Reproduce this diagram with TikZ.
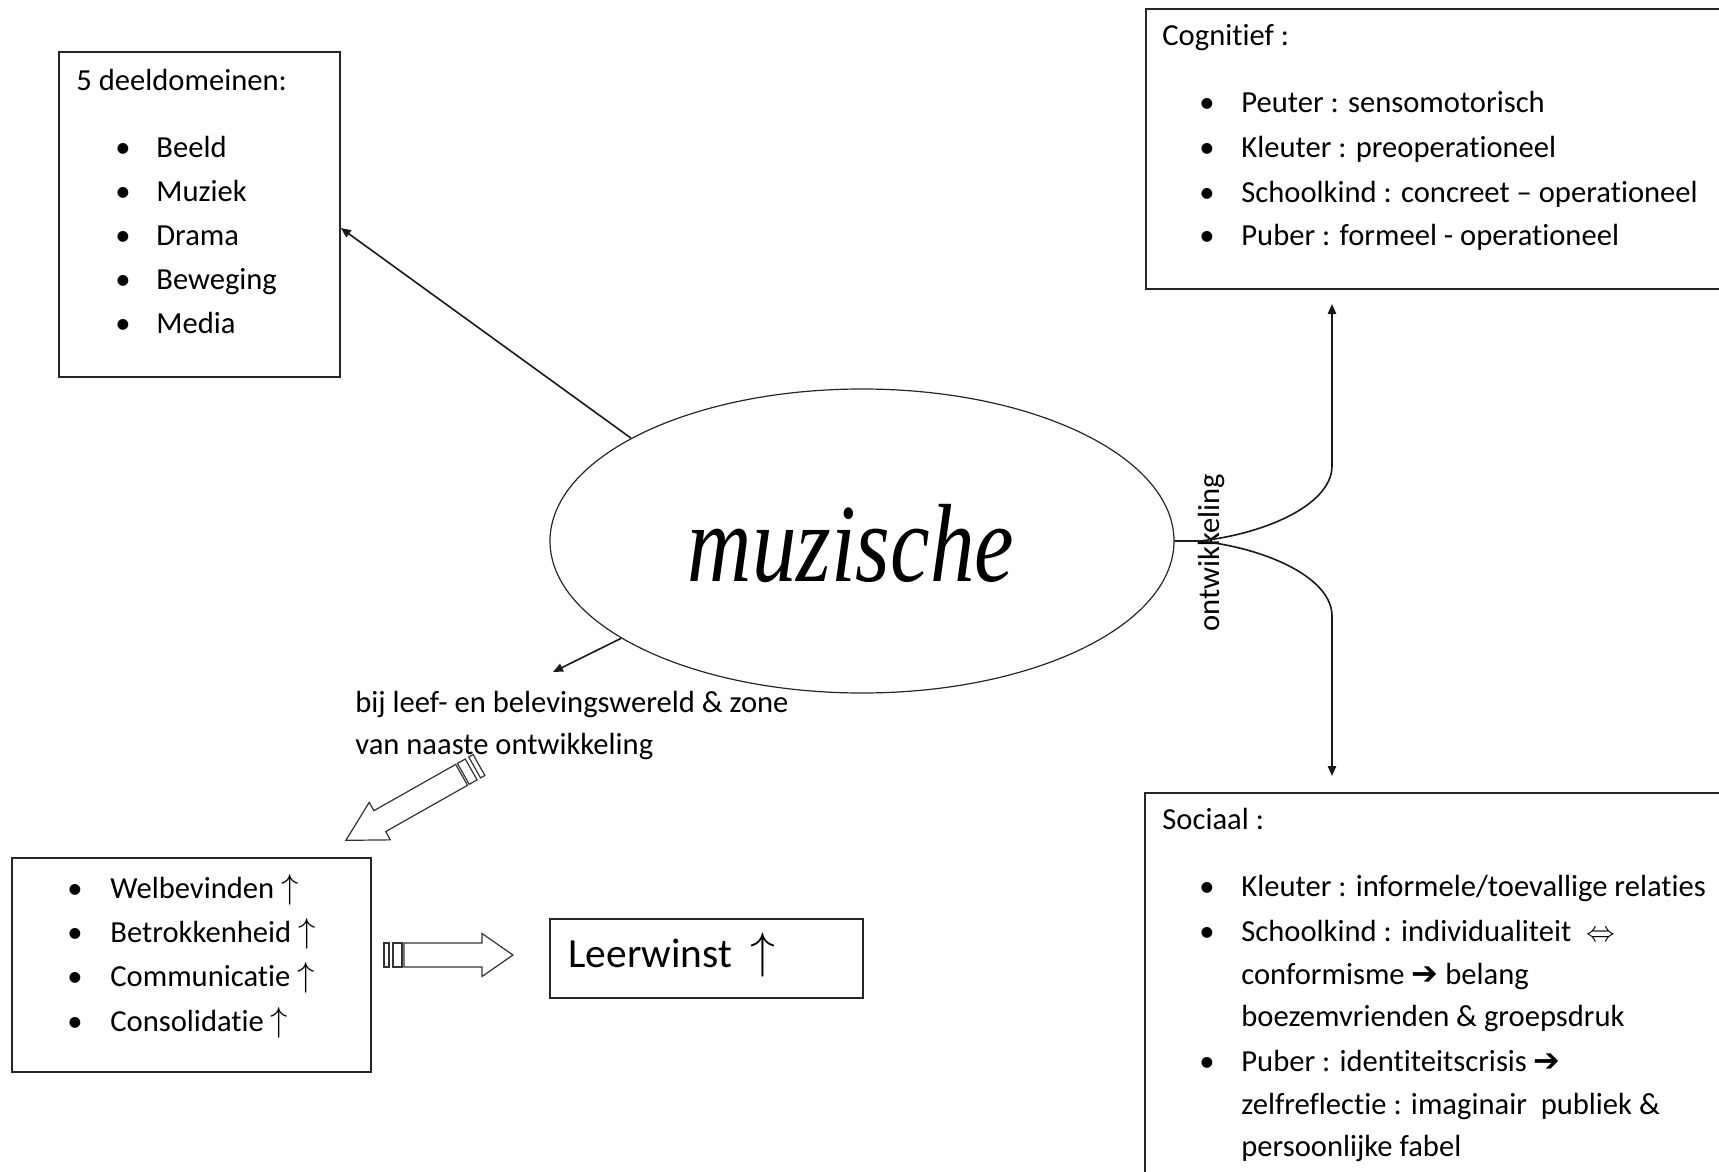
\documentclass[tikz,border=0pt]{standalone}
\usepackage{fontspec}
\setmainfont{Carlito}[Ligatures=NoCommon]
\newfontfamily\mzfont{Liberation Serif}
\newfontfamily\dejavu{DejaVu Sans}
\usetikzlibrary{shapes.geometric,arrows.meta,calc}
\newcommand{\uparr}{{\fontsize{19}{20}\selectfont$\uparrow$}}
\begin{document}
\begin{tikzpicture}[x=0.5pt,y=-0.5pt,
  txt/.style={font=\fontsize{15.3}{18}\selectfont, inner sep=0pt, anchor=mid west, yshift=-3pt},
  bul/.style={font=\fontsize{15.3}{18}\selectfont, inner sep=0pt, anchor=mid, yshift=-3pt},
  box/.style={draw=black!85, line width=0.8pt, rectangle, inner sep=0pt},
  conn/.style={draw=black!90, line width=0.8pt, -{Triangle[length=5pt,width=4.2pt]}},
  blk/.style={draw=black!80, line width=0.6pt, fill=white, line join=miter}]
\useasboundingbox (0,0) rectangle (1719,1172);
\clip (0,0) rectangle (1719,1172);

% boxes
\node[box, minimum width=140.5pt, minimum height=162.5pt] (dd) at (199.5,214.5) {};
\node[box, minimum width=307pt, minimum height=140pt] (cog) at (1453,149) {};
\node[box, minimum width=307.5pt, minimum height=208.5pt] (soc) at (1452.5,1001.5) {};
\node[box, minimum width=179.5pt, minimum height=107pt] (wel) at (191.5,965) {};
\node[box, minimum width=156.5pt, minimum height=39.5pt] (leer) at (706.5,958.5) {};
\node[draw=black!85, line width=0.6pt, ellipse, inner sep=0pt, minimum width=312pt, minimum height=152pt] (ell) at (862,541) {};

% central word
\node[inner sep=0pt, anchor=base, font=\mzfont\itshape\fontsize{44.5}{50}\selectfont] (mzt) at (851,581) {\scalebox{1}[1.25]{muzische}};

% 5 deeldomeinen
\node[txt] (ddT) at (76,80) {5 deeldomeinen:};
\foreach \y/\t [count=\i] in {147/Beeld,191/Muziek,235/Drama,279/Beweging,323/Media}{
  \node[bul] (ddb\i) at (123,\y) {•};
  \node[txt] (dd\i) at (156,\y) {\t};
}

% Cognitief
\node[txt] (cogT) at (1162,35) {Cognitief :};
\foreach \y/\t [count=\i] in {102/Peuter : sensomotorisch,147/Kleuter : preoperationeel,192/Schoolkind : concreet – operationeel,235/Puber : formeel - operationeel}{
  \node[bul] (cogb\i) at (1207,\y) {•};
  \node[txt] (cog\i) at (1241,\y) {\t};
}

% Sociaal
\node[txt] (socT) at (1162,819) {Sociaal :};
\node[bul] (socb1) at (1207,886) {•};
\node[txt] (soc1) at (1241,886) {Kleuter : informele/toevallige relaties};
\node[bul] (socb2) at (1207,931) {•};
\node[txt] (soc2) at (1241,931) {Schoolkind : individualiteit\hspace{4pt} {\fontsize{15}{16}\selectfont$\Leftrightarrow$}};
\node[txt] (soc3) at (1241,974) {conformisme {\dejavu\fontsize{16}{17}\selectfont ➔} belang};
\node[txt] (soc4) at (1241,1016) {boezemvrienden \& groepsdruk};
\node[bul] (socb3) at (1207,1061) {•};
\node[txt] (soc5) at (1241,1061) {Puber : identiteitscrisis {\dejavu\fontsize{16}{17}\selectfont ➔}};
\node[txt] (soc6) at (1241,1104) {zelfreflectie : imaginair\ \ publiek \&};
\node[txt] (soc7) at (1241,1146) {persoonlijke fabel};

% Welbevinden box
\foreach \y/\t [count=\i] in {888/Welbevinden,932/Betrokkenheid,976/Communicatie,1021/Consolidatie}{
  \node[bul] (welb\i) at (75,\y) {•};
  \node[txt] (wel\i) at (110,\y) {\t\ \uparr};
}

% Leerwinst
\node[txt, font=\fontsize{20.7}{24}\selectfont, yshift=-1.5pt] (leerT) at (568,954) {Leerwinst\ \ {\fontsize{27}{28}\selectfont$\uparrow$}};

% label under ellipse
\node[txt] (bij1) at (355,702) {bij leef- en belevingswereld \& zone};
\node[txt] (bij2) at (355,744) {van naaste ontwikkeling};

% vertical label
\node[inner sep=0pt, rotate=90, font=\fontsize{15.3}{18}\selectfont] (ont) at (1211,553) {ontwikkeling};

% connectors
\coordinate (ddin) at (342,228);
\coordinate (smalltip) at (553,672);
\coordinate (split) at (1200,541);
\coordinate (up) at (1332,466);
\coordinate (dn) at (1332,616);
\coordinate (cogin) at (1332,304);
\coordinate (socin) at (1332,776);

\draw[conn] (ell.156.4) -- (dd.east |- ddin);
\draw[conn] (ell.202.6) -- (smalltip);
\draw[conn] (ell.east) -- (split) .. controls (1270,533) and (1332,503) .. (up) -- (cogin);
\draw[conn] (ell.east) -- (split) .. controls (1270,549) and (1332,579) .. (dn) -- (socin);

% striped block arrow (horizontal)
\begin{scope}[shift={(384,955)}]
  \draw[blk] (0,-12) rectangle (5,12);
  \draw[blk] (9,-12) rectangle (18,12);
  \draw[blk] (20,-12) -- (98,-12) -- (98,-21.5) -- (129,0) -- (98,21.5) -- (98,12) -- (20,12) -- cycle;
\end{scope}

% striped block arrow (diagonal)
\begin{scope}[shift={(479,765)}, rotate=209.5]
  \draw[blk] (0,-12) rectangle (5,12);
  \draw[blk] (9,-12) rectangle (18,12);
  \draw[blk] (20,-12) -- (114,-12) -- (114,-21.5) -- (153,0) -- (114,21.5) -- (114,12) -- (20,12) -- cycle;
\end{scope}
\end{tikzpicture}
\end{document}
